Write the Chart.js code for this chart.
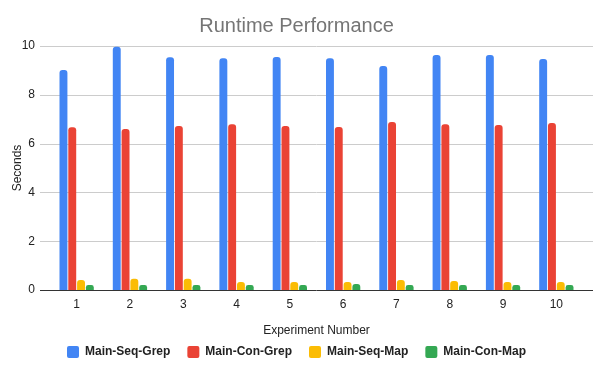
<!DOCTYPE html>
<html>
<head>
<meta charset="utf-8">
<script src="https://cdn.jsdelivr.net/npm/chart.js@4/dist/chart.umd.min.js"></script>
<style>
  html, body { margin: 0; padding: 0; background: #fff; }
  #wrap { width: 600px; height: 371px; }
</style>
</head>
<body>
<div id="wrap"><canvas id="c" width="600" height="371"></canvas></div>
<script>
const categories = ["1", "2", "3", "4", "5", "6", "7", "8", "9", "10"];
const seqGrep = [9.02, 9.97, 9.54, 9.50, 9.55, 9.50, 9.18, 9.63, 9.63, 9.47];
const conGrep = [6.67, 6.60, 6.72, 6.79, 6.72, 6.68, 6.89, 6.79, 6.76, 6.84];
const seqMap  = [0.41, 0.46, 0.46, 0.33, 0.33, 0.33, 0.41, 0.37, 0.33, 0.33];
const conMap  = [0.20, 0.20, 0.20, 0.20, 0.20, 0.25, 0.20, 0.20, 0.20, 0.20];
const seriesNames = ["Main-Seq-Grep", "Main-Con-Grep", "Main-Seq-Map", "Main-Con-Map"];
const yTicks = [0, 2, 4, 6, 8, 10];

const colors = ["#4285F4", "#EA4335", "#FBBC04", "#34A853"];
const FONT = "Arial, 'Liberation Sans', sans-serif";

const gridPlugin = {
  id: 'extGrid',
  afterLayout(chart) {
    // nudge legend up a little (Google-style compact spacing)
    if (chart.legend) { chart.legend.top -= 3; chart.legend.bottom -= 3; }
  },
  beforeDatasetsDraw(chart) {
    const ctx = chart.ctx, a = chart.chartArea, s = chart.scales.y;
    ctx.save();
    ctx.strokeStyle = '#cccccc';
    ctx.lineWidth = 1;
    s.ticks.forEach(t => {
      if (t.value === 0) return;
      const y = Math.round(s.getPixelForValue(t.value)) + 0.5;
      ctx.beginPath();
      ctx.moveTo(a.left - 10, y);
      ctx.lineTo(a.right + 10, y);
      ctx.stroke();
    });
    ctx.restore();
  },
  afterDatasetsDraw(chart) {
    const ctx = chart.ctx, a = chart.chartArea, s = chart.scales.y;
    const y = Math.round(s.getPixelForValue(0)) + 0.5;
    ctx.save();
    ctx.strokeStyle = '#333333';
    ctx.lineWidth = 1;
    ctx.beginPath();
    ctx.moveTo(a.left - 10, y);
    ctx.lineTo(a.right + 10, y);
    ctx.stroke();
    ctx.restore();
  }
};

const data = {
  labels: categories,
  datasets: [seqGrep, conGrep, seqMap, conMap].map((d, i) => ({
    label: seriesNames[i],
    data: d,
    backgroundColor: colors[i],
    borderRadius: 3,
    borderSkipped: 'start',
    categoryPercentage: 0.66,
    barPercentage: 0.9
  }))
};

new Chart(document.getElementById('c'), {
  type: 'bar',
  data,
  plugins: [gridPlugin],
  options: {
    responsive: false,
    devicePixelRatio: 1,
    animation: false,
    layout: { padding: { left: 10, right: 17, top: 0, bottom: 0 } },
    plugins: {
      title: {
        display: true,
        text: 'Runtime Performance',
        color: '#757575',
        font: { family: FONT, size: 20, weight: 'normal' },
        padding: { top: 14, bottom: 8 }
      },
      legend: {
        position: 'bottom',
        labels: {
          boxWidth: 12,
          boxHeight: 12,
          useBorderRadius: true,
          borderRadius: 2,
          padding: 17,
          color: '#222222',
          font: { family: FONT, size: 12, weight: 'bold' }
        }
      },
      tooltip: { enabled: false }
    },
    scales: {
      x: {
        offset: true,
        afterFit(scale) { scale.height = 42; },
        grid: { display: false, drawTicks: false },
        border: { display: false },
        ticks: { color: '#222222', font: { family: FONT, size: 12 }, padding: 7 },
        title: {
          display: true,
          text: 'Experiment Number',
          color: '#222222',
          font: { family: FONT, size: 12, lineHeight: 1.2 },
          padding: { top: 0, bottom: -6 }
        }
      },
      y: {
        min: 0,
        max: 10,
        afterFit(scale) { scale.width = 40; },
        afterBuildTicks(scale) { scale.ticks = yTicks.map(v => ({ value: v })); },
        grid: { display: false, drawTicks: false },
        border: { display: false },
        ticks: { color: '#222222', font: { family: FONT, size: 12 }, padding: 15 },
        title: {
          display: true,
          text: 'Seconds',
          color: '#222222',
          font: { family: FONT, size: 12, lineHeight: 1.2 },
          padding: 0
        }
      }
    }
  }
});
</script>
</body>
</html>
